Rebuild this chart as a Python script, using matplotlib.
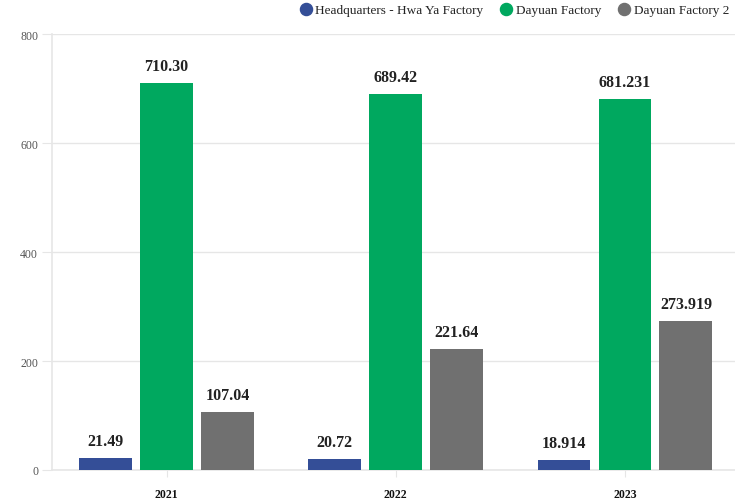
import matplotlib
matplotlib.use("Agg")
import matplotlib.pyplot as plt
from matplotlib.lines import Line2D
import numpy as np

years = ["2021", "2022", "2023"]
series_names = ["Headquarters - Hwa Ya Factory", "Dayuan Factory", "Dayuan Factory 2"]
hq = [21.49, 20.72, 18.914]
dayuan = [710.30, 689.42, 681.231]
dayuan2 = [107.04, 221.64, 273.919]
labels_hq = ["21.49", "20.72", "18.914"]
labels_dy = ["710.30", "689.42", "681.231"]
labels_dy2 = ["107.04", "221.64", "273.919"]
colors = ["#344e97", "#00a85f", "#707070"]
yticks = [0, 200, 400, 600, 800]

plt.rcParams['font.family'] = ['Liberation Serif', 'DejaVu Serif']

fig = plt.figure(figsize=(7.35, 5.02), dpi=100)
ax = fig.add_axes([0.0707, 0.0618, 0.9293, 0.868])

x = np.arange(len(years))
w = 0.231
off = 0.266
grid_c = "#e6e6e6"
for i, (vals, labs) in enumerate([(hq, labels_hq), (dayuan, labels_dy), (dayuan2, labels_dy2)]):
    xs = x + (i - 1) * off
    ax.bar(xs, vals, width=w, color=colors[i], zorder=3)
    for xi, v, lab in zip(xs, vals, labs):
        ax.annotate(lab, (xi, v), xytext=(0, 6.5), textcoords="offset points",
                    ha="center", va="bottom", fontsize=11.5, fontweight="bold", color="#222222")

ax.set_xlim(-0.5, 2.48)
ax.set_ylim(0, 800)
ax.set_yticks(yticks)
ax.set_yticklabels([str(t) for t in yticks], fontsize=8.5, color="#555555")
ax.set_xticks(x)
ax.set_xticklabels(years, fontsize=8.5, fontweight="bold", color="#111111")
ax.yaxis.grid(True, color=grid_c, linewidth=1, zorder=0)
ax.tick_params(axis="y", length=7, color=grid_c, pad=3)
ax.tick_params(axis="x", length=5, color=grid_c, pad=8)
for s in ["top", "right"]:
    ax.spines[s].set_visible(False)
ax.spines["left"].set_color(grid_c)
ax.spines["bottom"].set_color(grid_c)
ax.spines["left"].set_linewidth(1.2)
ax.spines["bottom"].set_linewidth(1.2)

handles = [Line2D([0], [0], marker="o", linestyle="none", markersize=8.7,
                  markerfacecolor=c, markeredgecolor=c) for c in colors]
leg = fig.legend(handles, series_names, loc="upper right", bbox_to_anchor=(729 / 735, 0.99),
                 ncol=3, frameon=False, fontsize=9.5, handlelength=0.9, handletextpad=0.3,
                 columnspacing=1.25, borderaxespad=0, borderpad=0)
for t in leg.get_texts():
    t.set_color("#222222")

fig.savefig("out.png", dpi=100)
